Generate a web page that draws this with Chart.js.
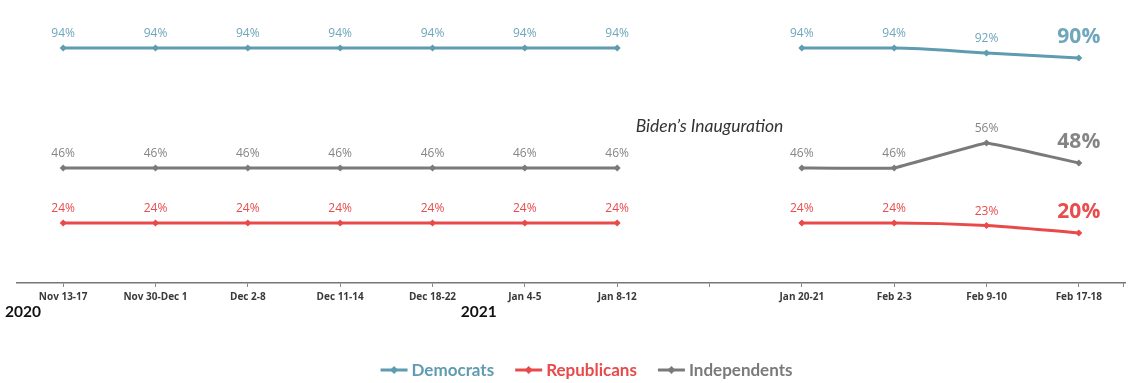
<!DOCTYPE html>
<html><head><meta charset="utf-8">
<script src="https://cdn.jsdelivr.net/npm/chart.js@4.4.1/dist/chart.umd.min.js"></script>
<style>html,body{margin:0;padding:0;background:#fff}#wrap{width:1131px;height:383px;position:relative}</style>
</head><body><div id="wrap"><canvas id="c"></canvas></div>
<script>
const categories = ['Nov 13-17','Nov 30-Dec 1','Dec 2-8','Dec 11-14','Dec 18-22','Jan 4-5','Jan 8-12','','Jan 20-21','Feb 2-3','Feb 9-10','Feb 17-18'];
const democrats   = [94,94,94,94,94,94,94,null,94,94,92,90];
const republicans = [24,24,24,24,24,24,24,null,24,24,23,20];
const independents= [46,46,46,46,46,46,46,null,46,46,56,48];
const seriesNames = ['Democrats','Republicans','Independents'];
const seriesColors = ['#5f9bb1','#e84a4a','#7a7a7a'];
const labelColors = ['#6ea6bb','#e84c4c','#858585'];
const yearLabels = [{text:'2020', at:null},{text:'2021', at:4.5}];
const annotationText = 'Biden\u2019s Inauguration';

function drawLegendMarker(g, x, y, color){
  g.strokeStyle = color; g.lineWidth = 3; g.beginPath(); g.moveTo(x,y); g.lineTo(x+27,y); g.stroke();
  g.fillStyle = color; g.beginPath(); g.moveTo(x+13.5,y-4); g.lineTo(x+17.5,y); g.lineTo(x+13.5,y+4); g.lineTo(x+9.5,y); g.closePath(); g.fill();
}

const labelPlugin = {
  id:'labels',
  afterDatasetsDraw(chart){
    const ctx = chart.ctx;
    chart.data.datasets.forEach((ds,i)=>{
      const meta = chart.getDatasetMeta(i);
      ds.data.forEach((v,j)=>{
        if(v===null) return;
        const p = meta.data[j];
        const last = j===ds.data.length-1;
        ctx.save();
        ctx.fillStyle = labelColors[i];
        ctx.textAlign = 'center';
        ctx.textBaseline = 'alphabetic';
        if(last){ ctx.font = 'bold 21px "Open Sans"'; ctx.fillText(v+'%', p.x, p.y-15); }
        else { ctx.font = '12px "Open Sans"'; ctx.fillText(v+'%', p.x, p.y-11); }
        ctx.restore();
      });
    });
    const xs = chart.scales.x, ys = chart.scales.y, ca = chart.chartArea;
    ctx.save();
    // right end tick of the axis
    ctx.strokeStyle = '#888'; ctx.lineWidth = 1;
    ctx.beginPath(); ctx.moveTo(ca.right-1.5, ca.bottom); ctx.lineTo(ca.right-1.5, ca.bottom+4); ctx.stroke();
    ctx.fillStyle = '#333';
    ctx.font = 'italic 17.5px Lato';
    ctx.textAlign = 'center';
    ctx.fillText(annotationText, xs.getPixelForValue(7), ys.getPixelForValue(60.4));
    ctx.font = 'bold 15.5px Lato';
    ctx.fillStyle = '#111';
    yearLabels.forEach(y=>{
      if(y.at===null){ ctx.textAlign='left'; ctx.fillText(y.text, 5, 317); }
      else { ctx.textAlign='center'; ctx.fillText(y.text, xs.getPixelForValue(y.at), 317); }
    });
    // legend
    ctx.font = 'bold 17px Lato';
    ctx.textBaseline = 'middle';
    ctx.textAlign = 'left';
    const widths = seriesNames.map(n=>27+4+ctx.measureText(n).width);
    const total = widths.reduce((a,b)=>a+b,0) + 21*(widths.length-1);
    let x = 586.5 - total/2;
    const ly = 370;
    seriesNames.forEach((n,i)=>{
      drawLegendMarker(ctx, x, ly, seriesColors[i]);
      ctx.fillStyle = seriesColors[i];
      ctx.fillText(n, x+31, ly+1);
      x += widths[i] + 21;
    });
    ctx.restore();
  }
};

const mk = (i,data,opts)=>Object.assign({
  label: seriesNames[i], data, borderColor: seriesColors[i], backgroundColor: seriesColors[i],
  borderWidth: 3, pointStyle:'rectRot', pointRadius:3.5, pointBackgroundColor: seriesColors[i],
  pointBorderWidth:0, spanGaps:false, cubicInterpolationMode:'monotone'
}, opts||{});

new Chart(document.getElementById('c'), {
  type:'line',
  data:{ labels: categories, datasets:[ mk(0,democrats), mk(1,republicans), mk(2,independents,{cubicInterpolationMode:'default', tension:0.05}) ] },
  options:{
    responsive:true, maintainAspectRatio:false, animation:false,
    layout:{ padding:{ top:8, left:17, right:6, bottom:50 } },
    scales:{
      x:{ offset:true,
        grid:{ display:true, drawOnChartArea:false, drawTicks:true, tickLength:4, color:'#888', lineWidth:1 },
        border:{ display:true, color:'#777', width:1.5 },
        ticks:{ padding:4, maxRotation:0, autoSkip:false, color:'#3a3a3a', font:{ family:'"Open Sans"', size:10, weight:'bold' } },
        afterFit(s){ s.height = 50; }
      },
      y:{ display:false, min:0, max:110 }
    },
    plugins:{
      tooltip:{enabled:false},
      legend:{ display:false }
    }
  },
  plugins:[labelPlugin]
});
</script></body></html>
